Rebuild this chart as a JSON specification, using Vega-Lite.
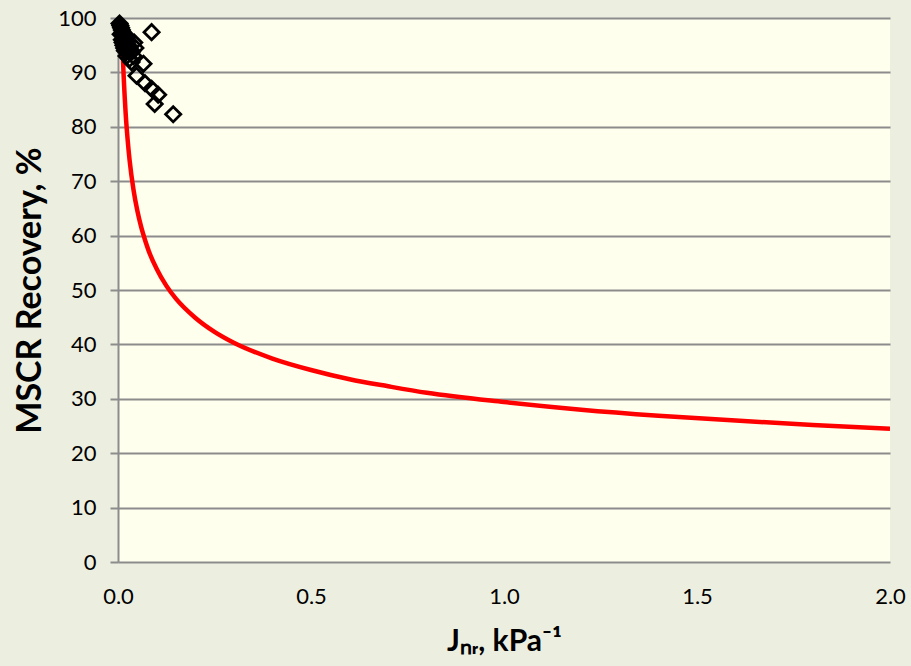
{
  "$schema": "https://vega.github.io/schema/vega-lite/v6.json",
  "width": 772,
  "height": 544,
  "autosize": {"type": "none"},
  "padding": {"left": 118, "top": 18, "right": 21, "bottom": 104},
  "background": "#ECEFE0",
  "config": {
    "view": {"fill": "#FFFFEE", "stroke": null},
    "font": "Lato"
  },
  "datasets": {
    "curve": [
      {"jnr": 0.0125, "rec": 93.1},
      {"jnr": 0.015, "rec": 88.8},
      {"jnr": 0.02, "rec": 82.3},
      {"jnr": 0.025, "rec": 77.6},
      {"jnr": 0.03, "rec": 73.9},
      {"jnr": 0.04, "rec": 68.5},
      {"jnr": 0.05, "rec": 64.6},
      {"jnr": 0.06, "rec": 61.6},
      {"jnr": 0.07, "rec": 59.2},
      {"jnr": 0.08, "rec": 57.1},
      {"jnr": 0.1, "rec": 53.9},
      {"jnr": 0.125, "rec": 50.8},
      {"jnr": 0.15, "rec": 48.4},
      {"jnr": 0.2, "rec": 44.9},
      {"jnr": 0.25, "rec": 42.3},
      {"jnr": 0.3, "rec": 40.3},
      {"jnr": 0.4, "rec": 37.4},
      {"jnr": 0.5, "rec": 35.3},
      {"jnr": 0.6, "rec": 33.6},
      {"jnr": 0.7, "rec": 32.3},
      {"jnr": 0.8, "rec": 31.1},
      {"jnr": 1.0, "rec": 29.4},
      {"jnr": 1.2, "rec": 28.0},
      {"jnr": 1.4, "rec": 26.9},
      {"jnr": 1.6, "rec": 26.0},
      {"jnr": 1.8, "rec": 25.2},
      {"jnr": 2.0, "rec": 24.5}
    ],
    "points": [
      {"jnr": 0.004, "rec": 99.0},
      {"jnr": 0.006, "rec": 98.6},
      {"jnr": 0.008, "rec": 98.2},
      {"jnr": 0.010, "rec": 97.8},
      {"jnr": 0.012, "rec": 97.4},
      {"jnr": 0.014, "rec": 97.0},
      {"jnr": 0.016, "rec": 96.6},
      {"jnr": 0.018, "rec": 96.2},
      {"jnr": 0.020, "rec": 95.8},
      {"jnr": 0.023, "rec": 95.4},
      {"jnr": 0.026, "rec": 95.0},
      {"jnr": 0.029, "rec": 94.6},
      {"jnr": 0.032, "rec": 94.2},
      {"jnr": 0.036, "rec": 93.8},
      {"jnr": 0.007, "rec": 97.0},
      {"jnr": 0.010, "rec": 96.0},
      {"jnr": 0.012, "rec": 95.5},
      {"jnr": 0.014, "rec": 95.0},
      {"jnr": 0.016, "rec": 94.5},
      {"jnr": 0.018, "rec": 94.0},
      {"jnr": 0.022, "rec": 93.0},
      {"jnr": 0.025, "rec": 96.5},
      {"jnr": 0.030, "rec": 92.5},
      {"jnr": 0.035, "rec": 91.9},
      {"jnr": 0.040, "rec": 93.0},
      {"jnr": 0.042, "rec": 95.5},
      {"jnr": 0.045, "rec": 94.5},
      {"jnr": 0.087, "rec": 97.4},
      {"jnr": 0.066, "rec": 91.6},
      {"jnr": 0.048, "rec": 89.4},
      {"jnr": 0.070, "rec": 88.0},
      {"jnr": 0.087, "rec": 87.0},
      {"jnr": 0.104, "rec": 85.9},
      {"jnr": 0.095, "rec": 84.2},
      {"jnr": 0.143, "rec": 82.3}
    ]
  },
  "encoding": {
    "x": {
      "field": "jnr",
      "type": "quantitative",
      "scale": {"domain": [0, 2], "nice": false, "zero": true},
      "axis": {
        "title": "J\u2099\u1d63, kPa\u207b\u00b9",
        "values": [0, 0.5, 1, 1.5, 2],
        "format": ".1f",
        "grid": false,
        "domain": false,
        "ticks": false,
        "labelPadding": 24,
        "labelFontSize": 22,
        "labelColor": "#000000",
        "labelFont": "Lato",
        "labelFlush": false,
        "titleFont": "Lato",
        "titleFontSize": 30,
        "titleFontWeight": "bold",
        "titleColor": "#000000",
        "titlePadding": 19
      }
    },
    "y": {
      "field": "rec",
      "type": "quantitative",
      "scale": {"domain": [0, 100], "nice": false},
      "axis": {
        "title": "MSCR Recovery, %",
        "values": [0, 10, 20, 30, 40, 50, 60, 70, 80, 90, 100],
        "grid": true,
        "gridColor": "#8C8C8C",
        "gridWidth": 2,
        "domainColor": "#8C8C8C",
        "domainWidth": 2,
        "tickColor": "#8C8C8C",
        "tickWidth": 2,
        "tickSize": 8,
        "labelPadding": 14,
        "labelFontSize": 22,
        "labelColor": "#000000",
        "labelFont": "Lato",
        "labelFlush": false,
        "titleFont": "Lato",
        "titleFontSize": 34,
        "titleFontWeight": "bold",
        "titleColor": "#000000",
        "titlePadding": 10
      }
    }
  },
  "layer": [
    {
      "data": {"name": "curve"},
      "mark": {"type": "line", "color": "#FF0000", "strokeWidth": 4.5, "interpolate": "monotone", "clip": true}
    },
    {
      "data": {"name": "points"},
      "mark": {"type": "point", "shape": "diamond", "size": 230, "filled": false, "stroke": "#000000", "strokeWidth": 2.8, "opacity": 1}
    }
  ]
}
